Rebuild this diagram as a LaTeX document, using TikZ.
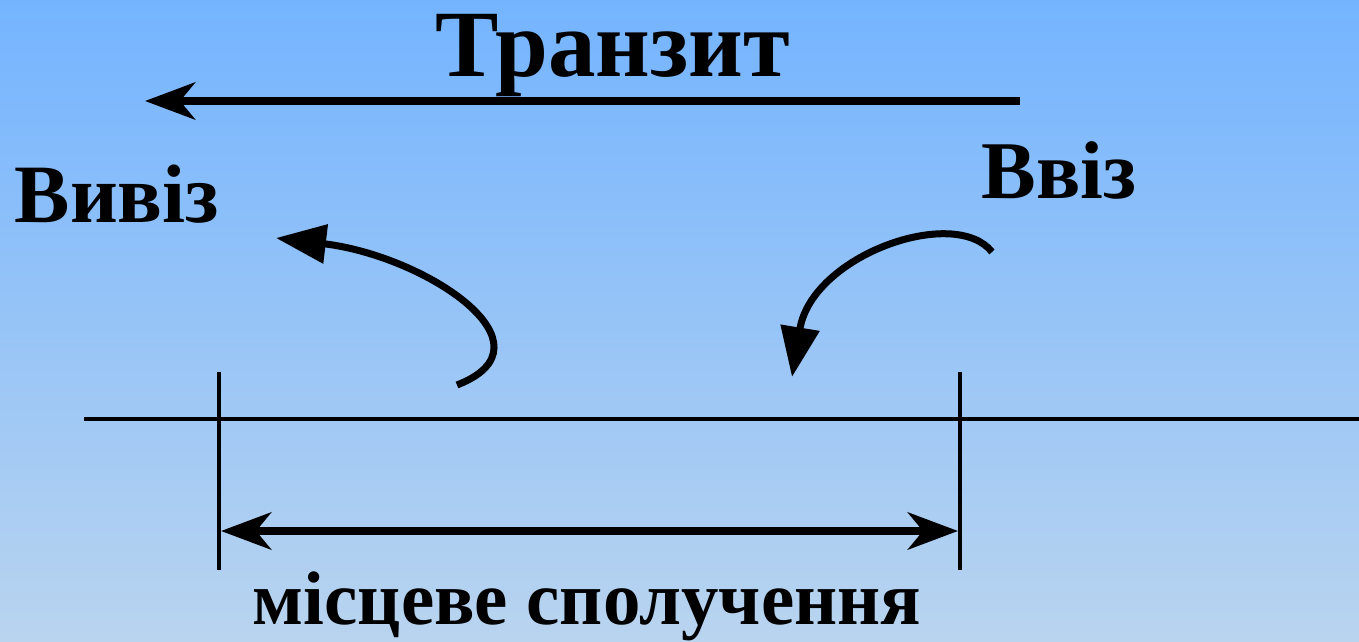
\documentclass[tikz,border=0pt]{standalone}
\usepackage{fontspec}
\setmainfont{Liberation Serif}
\usetikzlibrary{arrows.meta}
\definecolor{topblue}{RGB}{116,180,255}
\definecolor{botblue}{RGB}{185,212,239}
\tikzset{
  lbl/.style={inner sep=0pt,anchor=base,font=\bfseries},
  thin line/.style={line width=3.5pt},
  flow/.style={line width=8pt,-{Stealth[length=50pt,width=37pt,inset=15pt]}},
  bend arrow/.style={line width=7pt,-{Triangle[length=50pt,width=38pt]}}
}
\begin{document}
\begin{tikzpicture}[x=1pt,y=-1pt]
\useasboundingbox (0,0) rectangle (1359,642);
\shade[top color=topblue,bottom color=botblue] (0,0) rectangle (1359,642);
% labels
\node[lbl,font=\bfseries\fontsize{95}{100}\selectfont] (tranzit) at (613,76) {Транзит};
\node[lbl,font=\bfseries\fontsize{83}{90}\selectfont] (vyviz) at (117,222) {Вивіз};
\node[lbl,font=\bfseries\fontsize{82}{90}\selectfont] (vviz) at (1059,198) {Ввіз};
\node[lbl,font=\bfseries\fontsize{76}{80}\selectfont,xscale=0.985] (local) at (587,624) {місцеве сполучення};
% transit arrow
\coordinate (tA) at (1020,101);
\coordinate (tB) at (145,101);
\draw[flow] (tA) -- (tB);
% baseline and ticks
\coordinate (hL) at (84,419);
\coordinate (hR) at (1359,419);
\draw[thin line] (hL) -- (hR);
\coordinate (lT) at (219,372); \coordinate (lB) at (219,570);
\coordinate (rT) at (960,372); \coordinate (rB) at (960,570);
\draw[thin line] (lT) -- (lB);
\draw[thin line] (rT) -- (rB);
% local double arrow
\coordinate (dL) at (221,531);
\coordinate (dR) at (958,531);
\draw[flow,{Stealth[length=50pt,width=37pt,inset=15pt]}-{Stealth[length=50pt,width=37pt,inset=15pt]}] (dL) -- (dR);
% export curved arrow
\coordinate (eS) at (457,385);
\coordinate (eE) at (276,238);
\draw[bend arrow] (eS) .. controls (560,345) and (426,256) .. (eE);
% import curved arrow
\coordinate (iS) at (992,252);
\coordinate (iE) at (792,377);
\draw[bend arrow] (iS) .. controls (955,205) and (812,255) .. (iE);
\end{tikzpicture}
\end{document}
